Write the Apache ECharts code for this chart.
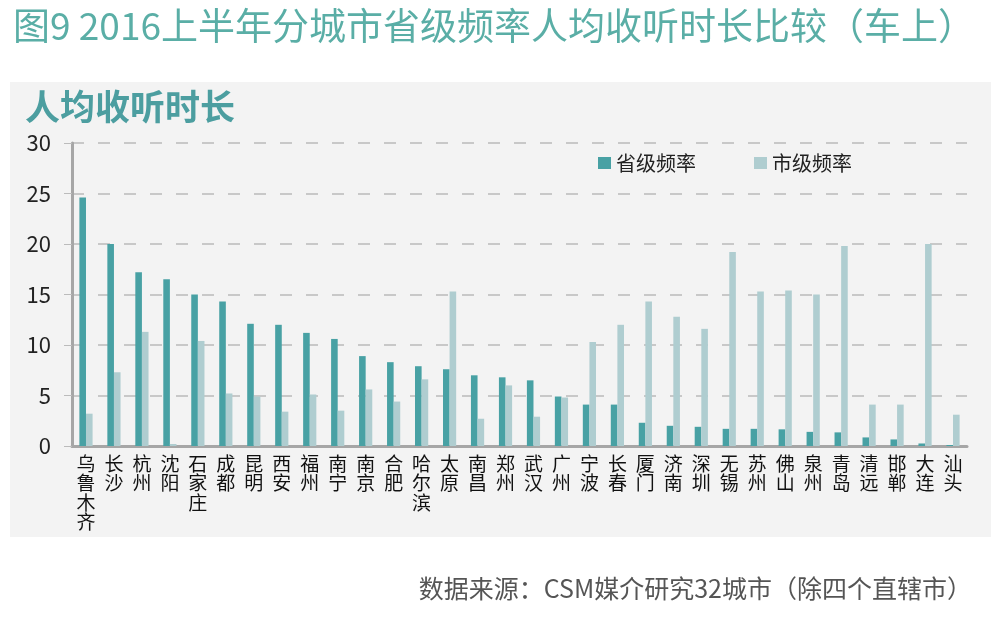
<!DOCTYPE html>
<html>
<head>
<meta charset="utf-8">
<script src="https://cdn.jsdelivr.net/npm/echarts@6/dist/echarts.min.js"></script>
<style>
  html, body { margin: 0; padding: 0; background: #fff; }
  #chart { width: 997px; height: 621px; }
</style>
</head>
<body>
<div id="chart"></div>
<script>
var cities = ['乌鲁木齐', '长沙', '杭州', '沈阳', '石家庄', '成都', '昆明', '西安', '福州', '南宁',
  '南京', '合肥', '哈尔滨', '太原', '南昌', '郑州', '武汉', '广州', '宁波', '长春',
  '厦门', '济南', '深圳', '无锡', '苏州', '佛山', '泉州', '青岛', '清远', '邯郸', '大连', '汕头'];
var provincial = [24.6, 20.0, 17.2, 16.5, 15.0, 14.3, 12.1, 12.0, 11.2, 10.6,
  8.9, 8.3, 7.9, 7.6, 7.0, 6.8, 6.5, 4.9, 4.1, 4.1,
  2.3, 2.0, 1.9, 1.7, 1.7, 1.65, 1.4, 1.35, 0.85, 0.65, 0.25, 0.1];
var city = [3.2, 7.3, 11.3, 0.2, 10.4, 5.2, 4.9, 3.4, 5.1, 3.5,
  5.6, 4.4, 6.6, 15.3, 2.7, 6.0, 2.9, 4.8, 10.3, 12.0,
  14.3, 12.8, 11.6, 19.2, 15.3, 15.4, 15.0, 19.8, 4.1, 4.1, 20.0, 3.1];
var yTicks = [0, 5, 10, 15, 20, 25, 30];

var teal = '#48a1a4';
var pale = '#afcdd0';
var font = 'Noto Sans CJK SC';

var chart = echarts.init(document.getElementById('chart'));
chart.setOption({
  backgroundColor: '#ffffff',
  textStyle: { fontFamily: font },
  graphic: [{
    type: 'rect',
    shape: { x: 10, y: 82, width: 981, height: 455 },
    style: { fill: '#f3f3f3' },
    z: -10
  }],
  title: [{
    text: '图9 2016上半年分城市省级频率人均收听时长比较（车上）',
    left: 8, top: 2,
    textStyle: { color: '#5aaea6', fontSize: 37, fontWeight: 'normal', fontFamily: font }
  }, {
    text: '人均收听时长',
    left: 20, top: 84,
    textStyle: { color: '#4c9ea0', fontSize: 35, fontWeight: 'bold', fontFamily: font }
  }, {
    text: '数据来源：CSM媒介研究32城市（除四个直辖市）',
    right: 20, top: 571,
    textStyle: { color: '#555555', fontSize: 25, fontWeight: 'normal', fontFamily: font }
  }],
  legend: {
    left: 593, top: 148,
    itemWidth: 13, itemHeight: 12, itemGap: 58,
    icon: 'rect',
    textStyle: { fontSize: 20, color: '#222', fontFamily: font },
    data: ['省级频率', '市级频率']
  },
  grid: { left: 72, right: 30, top: 143, bottom: 175 },
  xAxis: {
    type: 'category',
    data: cities,
    axisLine: { lineStyle: { color: '#a6a6a6', width: 3 } },
    axisTick: { show: false },
    axisLabel: {
      interval: 0,
      margin: 8,
      color: '#111',
      fontSize: 19,
      lineHeight: 19.5,
      verticalAlign: 'top',
      formatter: function (v) { return v.split('').join('\n'); }
    }
  },
  yAxis: {
    type: 'value',
    min: yTicks[0], max: yTicks[yTicks.length - 1], interval: 5,
    axisLine: { show: true, lineStyle: { color: '#a6a6a6', width: 3 } },
    axisTick: { show: true, length: 8, lineStyle: { color: '#bbbbbb' } },
    splitLine: { lineStyle: { color: '#bbbbbb', type: [12, 14], width: 1.5 } },
    axisLabel: { color: '#222', fontSize: 22, margin: 21 }
  },
  series: [{
    name: '省级频率',
    type: 'bar',
    data: provincial,
    barWidth: 6.6,
    barGap: '0%',
    itemStyle: { color: teal }
  }, {
    name: '市级频率',
    type: 'bar',
    data: city,
    barWidth: 6.6,
    itemStyle: { color: pale }
  }]
});
</script>
</body>
</html>
